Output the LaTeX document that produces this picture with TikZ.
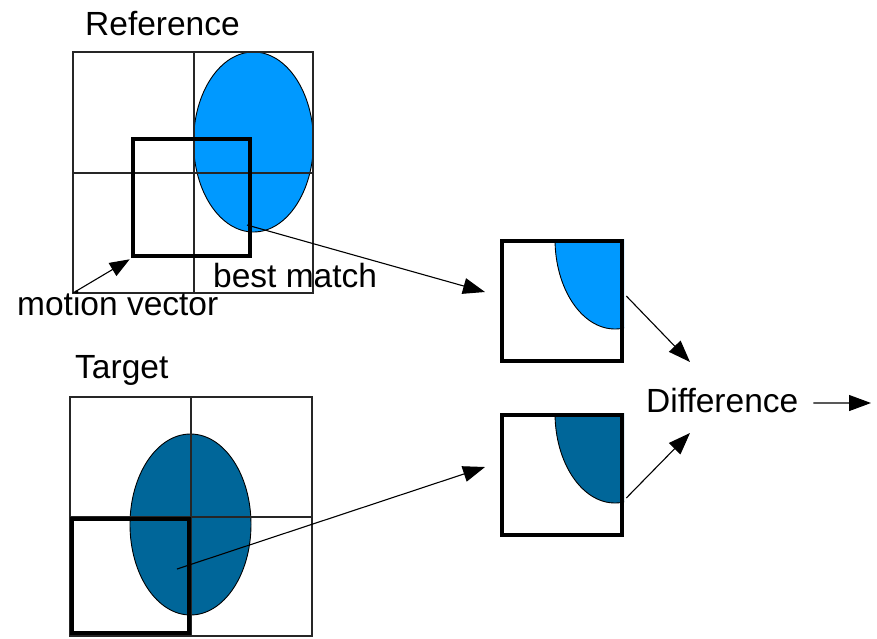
\documentclass[tikz,border=0pt]{standalone}
\usepackage{fontspec}
\setmainfont{Liberation Sans}
\usetikzlibrary{arrows.meta,calc}
\definecolor{lightblue}{RGB}{0,153,255}
\definecolor{darkblue}{RGB}{0,102,153}
\begin{document}
\begin{tikzpicture}[x=1pt,y=-1pt,
  gridline/.style={line width=1.1pt,draw=black!85},
  blobline/.style={line width=0.9pt,draw=black},
  boxnode/.style={draw=black,line width=4.6pt,inner sep=0pt,fill=none},
  conn/.style={line width=1.1pt,-{Triangle[length=22pt,width=16pt]}},
  lbl/.style={inner sep=0pt,font=\fontsize{33.5}{40}\selectfont}]
\useasboundingbox (0,0) rectangle (877,638);
% ---- reference frame
\fill[lightblue] (253.5,142) ellipse [x radius=60, y radius=90];
\draw[blobline] (253.5,142) ellipse [x radius=60, y radius=90];
\draw[gridline] (73,52) rectangle (313,293) (194,52) -- (194,293) (73,173) -- (313,173);
\node[boxnode,minimum width=117pt,minimum height=117pt] (bm) at (191.5,197.5) {};
\node[lbl,anchor=base west] (ref) at (85,35) {Reference};
\node[lbl,anchor=base west] (best) at (213,287) {best match};
\node[lbl,anchor=base west] (mv) at (17,315) {motion vector};
% ---- target frame
\fill[darkblue] (190.5,524.5) ellipse [x radius=60.5, y radius=90.5];
\draw[blobline] (190.5,524.5) ellipse [x radius=60.5, y radius=90.5];
\draw[gridline] (70,397) rectangle (312,636) (191,397) -- (191,636) (70,517) -- (312,517);
\node[boxnode,minimum width=117pt,minimum height=114pt] (tb) at (130.5,576) {};
\node[lbl,anchor=base west] (tgt) at (75,378) {Target};
% ---- small blocks
\begin{scope}
  \clip (500,239) rectangle (624,363);
  \fill[lightblue] (615,239) ellipse [x radius=60, y radius=90];
  \draw[blobline] (615,239) ellipse [x radius=60, y radius=90];
\end{scope}
\node[boxnode,minimum size=120pt] (up) at (562,301) {};
\begin{scope}
  \clip (500,413) rectangle (624,537);
  \fill[darkblue] (615,413) ellipse [x radius=60, y radius=90];
  \draw[blobline] (615,413) ellipse [x radius=60, y radius=90];
\end{scope}
\node[boxnode,minimum size=120pt] (lo) at (562,475) {};
\node[lbl,anchor=base west] (diff) at (646,412) {Difference};
% ---- connectors
\coordinate (mvs) at (73,293);
\coordinate (bms) at (247,225);
\coordinate (upin) at (485,292);
\coordinate (tgs) at (177,569);
\coordinate (loin) at (485,467);
\coordinate (din1) at (690,362);
\coordinate (din2) at (690,433);
\coordinate (dout) at (871,403);
\draw[line width=1.1pt,-{Triangle[length=20pt,width=15pt]}] (mvs) -- ($(bm.south west)+(-1,1)$);
\draw[conn] (bms) -- (upin);
\draw[conn] (tgs) -- (loin);
\draw[conn] ($(up.east)+(2,-5)$) -- (din1);
\draw[conn] ($(lo.east)+(2,23)$) -- (din2);
\draw[conn] ($(diff.east)+(15,3)$) -- (dout);
\end{tikzpicture}
\end{document}
